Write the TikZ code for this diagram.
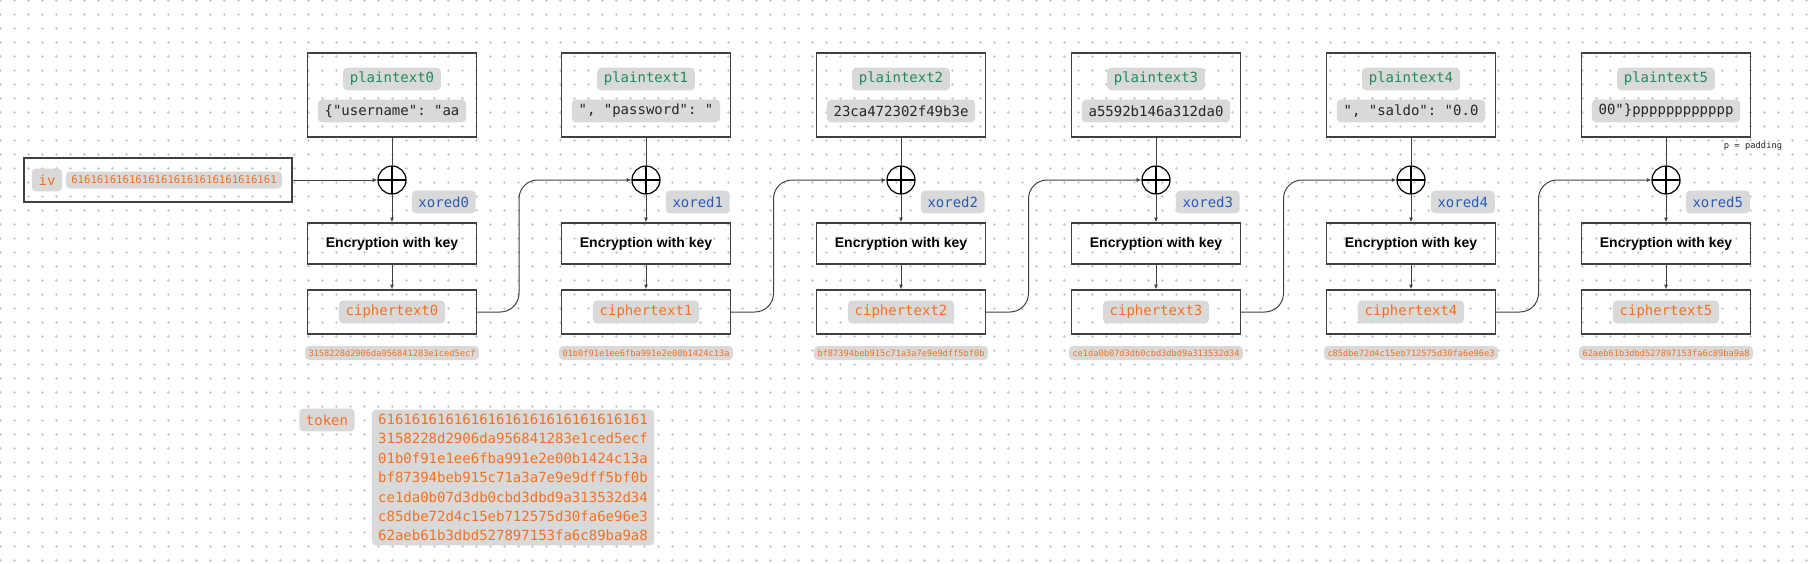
\documentclass[tikz,border=0pt]{standalone}
\usepackage{fontspec}
\setmainfont{Liberation Sans}
\setmonofont{DejaVu Sans Mono}
\usetikzlibrary{arrows.meta,calc}
\definecolor{plaingreen}{RGB}{30,140,90}
\definecolor{xorblue}{RGB}{40,92,180}
\definecolor{ciphorange}{RGB}{245,112,30}

\begin{document}
\begin{tikzpicture}[x=0.75pt,y=-0.75pt,
  box/.style={draw=black!75, line width=1pt, minimum width=126.75pt},
  enc/.style={box, minimum height=30.75pt, font=\bfseries\fontsize{10.5}{12}\selectfont},
  tag/.style={fill=black!15, rounded corners=3pt, inner xsep=5pt, inner ysep=0pt, minimum height=17pt, text=black!85, font=\ttfamily\fontsize{10.5}{12}\selectfont},
  hexs/.style={tag, text=ciphorange, minimum height=10.5pt, inner xsep=2.5pt, font=\ttfamily\fontsize{6.5}{7}\selectfont},
  xor/.style={circle, draw=black, line width=0.9pt, minimum size=21pt, inner sep=0pt,
    path picture={\draw[line width=1.8pt] (path picture bounding box.north) -- (path picture bounding box.south)
      (path picture bounding box.west) -- (path picture bounding box.east);}},
  conn/.style={draw=black!75, line width=0.75pt},
  >={Latex[length=3.5pt,width=3pt]}]
\useasboundingbox (0,0) rectangle (1817,564);
% dotted canvas
\draw[black!20, line width=0.75pt, step=10.5pt, dash pattern=on 2.25pt off 8.25pt] (-1.5,575.5) grid (1830,-1.5);

% iv
\node[box, minimum width=201pt, minimum height=33pt] (iv) at (158,180) {};
\node[tag, text=ciphorange] (ivl) at (47,180) {iv};
\node[tag, text=ciphorange, minimum height=12.75pt, inner xsep=4pt, font=\ttfamily\fontsize{8}{9}\selectfont] (ivh) at (174,180) {61616161616161616161616161616161};

% block 0
\node[box, minimum height=63pt] (p0) at (392,95) {};
\node[tag, text=plaingreen] (pl0) at (392,79) {plaintext0};
\node[tag] (pv0) at (392,111) {\{"username": "aa};
\node[xor] (x0) at (392,180) {};
\node[tag, text=xorblue, anchor=east] (xl0) at (476,202) {xored0};
\node[enc] (e0) at (392,243.5) {Encryption with key};
\node[box, minimum height=33pt] (c0) at (392,312) {};
\node[tag, text=ciphorange] (cl0) at (392,312) {ciphertext0};
\node[hexs] (h0) at (392,353) {3158228d2906da956841283e1ced5ecf};
\draw[conn,->] (iv) -- (x0);
\draw[conn] (p0) -- (x0);
\draw[conn,->] (x0) -- (e0);
\draw[conn,->] (e0) -- (c0);

% block 1
\node[box, minimum height=63pt] (p1) at (646,95) {};
\node[tag, text=plaingreen] (pl1) at (646,79) {plaintext1};
\node[tag] (pv1) at (646,111) {", "password": "};
\node[xor] (x1) at (646,180) {};
\node[tag, text=xorblue, anchor=east] (xl1) at (730,202) {xored1};
\node[enc] (e1) at (646,243.5) {Encryption with key};
\node[box, minimum height=33pt] (c1) at (646,312) {};
\node[tag, text=ciphorange] (cl1) at (646,312) {ciphertext1};
\node[hexs] (h1) at (646,353) {01b0f91e1ee6fba991e2e00b1424c13a};
\draw[conn,->,rounded corners=14pt] (c0) -- ($(c0.east)!.5!(c1.west)$) |- (x1);
\draw[conn] (p1) -- (x1);
\draw[conn,->] (x1) -- (e1);
\draw[conn,->] (e1) -- (c1);

% block 2
\node[box, minimum height=63pt] (p2) at (901,95) {};
\node[tag, text=plaingreen] (pl2) at (901,79) {plaintext2};
\node[tag] (pv2) at (901,111) {23ca472302f49b3e};
\node[xor] (x2) at (901,180) {};
\node[tag, text=xorblue, anchor=east] (xl2) at (985,202) {xored2};
\node[enc] (e2) at (901,243.5) {Encryption with key};
\node[box, minimum height=33pt] (c2) at (901,312) {};
\node[tag, text=ciphorange] (cl2) at (901,312) {ciphertext2};
\node[hexs] (h2) at (901,353) {bf87394beb915c71a3a7e9e9dff5bf0b};
\draw[conn,->,rounded corners=14pt] (c1) -- ($(c1.east)!.5!(c2.west)$) |- (x2);
\draw[conn] (p2) -- (x2);
\draw[conn,->] (x2) -- (e2);
\draw[conn,->] (e2) -- (c2);

% block 3
\node[box, minimum height=63pt] (p3) at (1156,95) {};
\node[tag, text=plaingreen] (pl3) at (1156,79) {plaintext3};
\node[tag] (pv3) at (1156,111) {a5592b146a312da0};
\node[xor] (x3) at (1156,180) {};
\node[tag, text=xorblue, anchor=east] (xl3) at (1240,202) {xored3};
\node[enc] (e3) at (1156,243.5) {Encryption with key};
\node[box, minimum height=33pt] (c3) at (1156,312) {};
\node[tag, text=ciphorange] (cl3) at (1156,312) {ciphertext3};
\node[hexs] (h3) at (1156,353) {ce1da0b07d3db0cbd3dbd9a313532d34};
\draw[conn,->,rounded corners=14pt] (c2) -- ($(c2.east)!.5!(c3.west)$) |- (x3);
\draw[conn] (p3) -- (x3);
\draw[conn,->] (x3) -- (e3);
\draw[conn,->] (e3) -- (c3);

% block 4
\node[box, minimum height=63pt] (p4) at (1411,95) {};
\node[tag, text=plaingreen] (pl4) at (1411,79) {plaintext4};
\node[tag] (pv4) at (1411,111) {", "saldo": "0.0};
\node[xor] (x4) at (1411,180) {};
\node[tag, text=xorblue, anchor=east] (xl4) at (1495,202) {xored4};
\node[enc] (e4) at (1411,243.5) {Encryption with key};
\node[box, minimum height=33pt] (c4) at (1411,312) {};
\node[tag, text=ciphorange] (cl4) at (1411,312) {ciphertext4};
\node[hexs] (h4) at (1411,353) {c85dbe72d4c15eb712575d30fa6e96e3};
\draw[conn,->,rounded corners=14pt] (c3) -- ($(c3.east)!.5!(c4.west)$) |- (x4);
\draw[conn] (p4) -- (x4);
\draw[conn,->] (x4) -- (e4);
\draw[conn,->] (e4) -- (c4);

% block 5
\node[box, minimum height=63pt] (p5) at (1666,95) {};
\node[tag, text=plaingreen] (pl5) at (1666,79) {plaintext5};
\node[tag] (pv5) at (1666,111) {00"\}pppppppppppp};
\node[xor] (x5) at (1666,180) {};
\node[tag, text=xorblue, anchor=east] (xl5) at (1750,202) {xored5};
\node[enc] (e5) at (1666,243.5) {Encryption with key};
\node[box, minimum height=33pt] (c5) at (1666,312) {};
\node[tag, text=ciphorange] (cl5) at (1666,312) {ciphertext5};
\node[hexs] (h5) at (1666,353) {62aeb61b3dbd527897153fa6c89ba9a8};
\draw[conn,->,rounded corners=14pt] (c4) -- ($(c4.east)!.5!(c5.west)$) |- (x5);
\draw[conn] (p5) -- (x5);
\draw[conn,->] (x5) -- (e5);
\draw[conn,->] (e5) -- (c5);
\node[font=\ttfamily\fontsize{6.6}{7}\selectfont, text=black!85] (pad) at (1753,146) {p = padding};

% token
\node[tag, text=ciphorange] (tok) at (327,420) {token};
\node[tag, text=ciphorange, align=left, inner xsep=4.7pt, inner ysep=3.3pt, font=\ttfamily\fontsize{10.5}{14.55}\selectfont] (tokv) at (513,477.5) {61616161616161616161616161616161\\3158228d2906da956841283e1ced5ecf\\01b0f91e1ee6fba991e2e00b1424c13a\\bf87394beb915c71a3a7e9e9dff5bf0b\\ce1da0b07d3db0cbd3dbd9a313532d34\\c85dbe72d4c15eb712575d30fa6e96e3\\62aeb61b3dbd527897153fa6c89ba9a8};
\end{tikzpicture}
\end{document}
